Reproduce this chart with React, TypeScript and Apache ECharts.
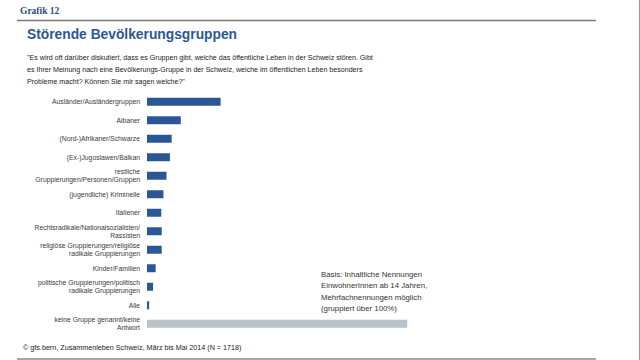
import React, { useEffect, useRef } from "react";
import * as echarts from "echarts";

const categories = [
  "Ausländer/Ausländergruppen",
  "Albaner",
  "(Nord-)Afrikaner/Schwarze",
  "(Ex-)Jugoslawen/Balkan",
  "restliche\nGruppierungen/Personen/Gruppen",
  "(jugendliche) Kriminelle",
  "Italiener",
  "Rechtsradikale/Nationalsozialisten/\nRassisten",
  "religiöse Gruppierungen/religiöse\nradikale Gruppierungen",
  "Kinder/Familien",
  "politische Gruppierungen/politisch\nradikale Gruppierungen",
  "Alle",
  "keine Gruppe genannt/keine\nAntwort",
];
const values = [17.0, 7.8, 5.7, 5.3, 4.5, 3.8, 3.3, 3.4, 3.4, 2.0, 1.4, 0.5, 60.1];
const titleText = "Störende Bevölkerungsgruppen";
const questionLines = [
  "\"Es wird oft darüber diskutiert, dass es Gruppen gibt, welche das öffentliche Leben in der Schweiz stören. Gibt",
  "es Ihrer Meinung nach eine Bevölkerungs-Gruppe in der Schweiz, welche im öffentlichen Leben besonders",
  "Probleme macht? Können Sie mir sagen welche?\"",
];
const basisLines = [
  "Basis: Inhaltliche Nennungen",
  "EinwohnerInnen ab 14 Jahren,",
  "Mehrfachnennungen möglich",
  "(gruppiert über 100%)",
];
const footerText = "© gfs.bern, Zusammenleben Schweiz, März bis Mai 2014 (N = 1718)";

const BLUE = "#2b5797";
const GREY = "#b9c3cc";
const FONT = "'Liberation Sans', Arial, sans-serif";

export default function App() {
  const ref = useRef<HTMLDivElement>(null);
  useEffect(() => {
    document.body.style.margin = "0";
    const chart = echarts.init(ref.current!, null, { renderer: "svg" });
    const lastIdx = categories.length - 1;
    chart.setOption({
      animation: false,
      backgroundColor: "#ffffff",
      grid: { left: 147, right: 60, top: 92.5, bottom: 27, containLabel: false },
      xAxis: { type: "value", min: 0, max: 100, show: false },
      yAxis: {
        type: "category",
        data: categories,
        inverse: true,
        axisLine: { show: false },
        axisTick: { show: false },
        axisLabel: {
          fontSize: 6.8,
          lineHeight: 8,
          color: "#3a3a3a",
          fontFamily: FONT,
          margin: 7,
          align: "right",
        },
      },
      series: [
        {
          type: "bar",
          data: values.map((v, i) => ({
            value: v,
            itemStyle: { color: i === lastIdx ? GREY : BLUE },
          })),
          barWidth: 8,
          label: { show: false },
        },
      ],
      graphic: [
        {
          type: "text",
          x: 20,
          y: 6,
          style: { text: "Grafik 12", fontFamily: "'Liberation Serif', serif", fontSize: 9.5, fontWeight: "bold", fill: "#2c4a7c", verticalAlign: "top", align: "left" },
        },
        { type: "line", shape: { x1: 17, y1: 20.5, x2: 596, y2: 20.5 }, style: { stroke: "#7a7a7a", lineWidth: 1.5 } },
        { type: "line", shape: { x1: 17, y1: 359, x2: 596, y2: 359 }, style: { stroke: "#8a8a8a", lineWidth: 1.5 } },
        { type: "line", shape: { x1: 639.5, y1: 0, x2: 639.5, y2: 360 }, style: { stroke: "#999999", lineWidth: 1 } },
        {
          type: "text",
          x: 27,
          y: 27.5,
          style: { text: titleText, fontFamily: FONT, fontSize: 13.8, fontWeight: "bold", fill: "#2b5797", verticalAlign: "top", align: "left" },
        },
        {
          type: "text",
          x: 27,
          y: 52,
          style: { text: questionLines.join("\n"), fontFamily: FONT, fontSize: 7.1, lineHeight: 12, fill: "#222222", verticalAlign: "top", align: "left" },
        },
        {
          type: "text",
          x: 321,
          y: 269,
          style: { text: basisLines.join("\n"), fontFamily: FONT, fontSize: 7.8, lineHeight: 11.3, fill: "#333333", verticalAlign: "top", align: "left" },
        },
        {
          type: "text",
          x: 23,
          y: 344,
          style: { text: footerText, fontFamily: FONT, fontSize: 7.2, fill: "#222222", verticalAlign: "top", align: "left" },
        },
      ],
    });
    return () => chart.dispose();
  }, []);
  return <div ref={ref} style={{ width: 640, height: 360 }} />;
}
